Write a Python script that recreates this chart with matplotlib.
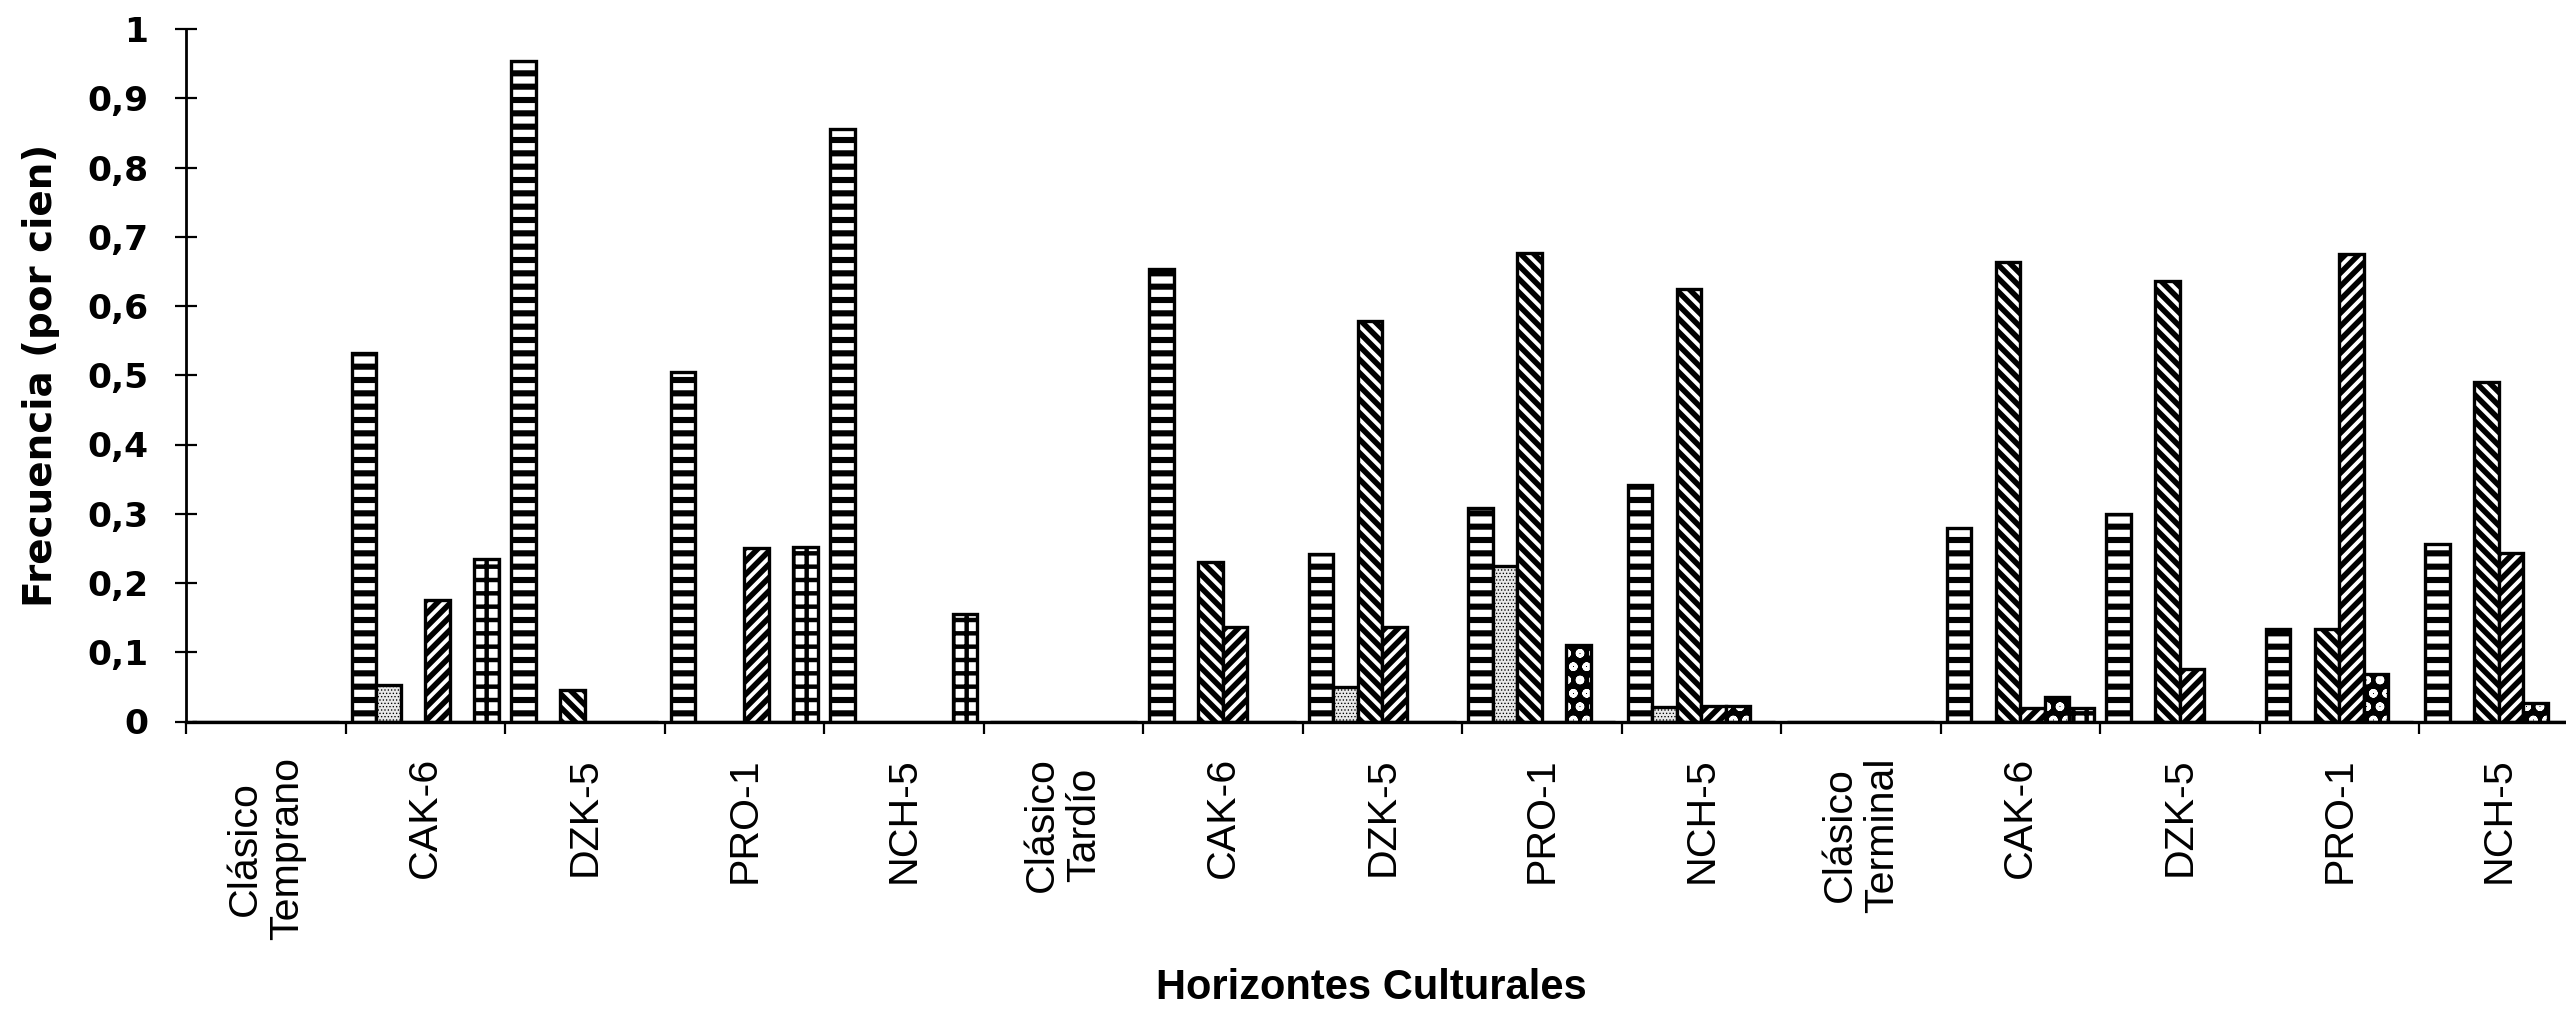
import numpy as np
import matplotlib.pyplot as plt

# Horizontes culturales (cada periodo es un encabezado sin barras)
categorias = ['Clásico\nTemprano', 'CAK-6', 'DZK-5', 'PRO-1', 'NCH-5',
              'Clásico\nTardío', 'CAK-6', 'DZK-5', 'PRO-1', 'NCH-5',
              'Clásico\nTerminal', 'CAK-6', 'DZK-5', 'PRO-1', 'NCH-5']

# Frecuencias, una lista por trama de relleno
horizontal = [0, 0.532, 0.954, 0.505, 0.855, 0, 0.653, 0.242, 0.309, 0.342, 0, 0.280, 0.299, 0.134, 0.257]
punteado   = [0, 0.052, 0, 0, 0, 0, 0, 0.050, 0.224, 0.021, 0, 0, 0, 0, 0]
diag_izq   = [0, 0, 0.046, 0, 0, 0, 0.231, 0.578, 0.676, 0.625, 0, 0.663, 0.636, 0.134, 0.490]
diag_der   = [0, 0.175, 0, 0.250, 0, 0, 0.137, 0.137, 0, 0.022, 0, 0.019, 0.076, 0.675, 0.243]
circulos   = [0, 0, 0, 0, 0, 0, 0, 0, 0.111, 0.022, 0, 0.036, 0, 0.068, 0.026]
cuadricula = [0, 0.234, 0, 0.252, 0.155, 0, 0, 0, 0, 0, 0, 0.019, 0, 0, 0]

yticks = np.arange(0, 1.01, 0.1)
ytick_labels = ['0', '0,1', '0,2', '0,3', '0,4', '0,5', '0,6', '0,7', '0,8', '0,9', '1']

DPI = 80
plt.rcParams['hatch.linewidth'] = 5.0

fig = plt.figure(figsize=(2566 / DPI, 1013 / DPI), dpi=DPI)
ax = fig.add_axes([186 / 2566, 1 - 721.5 / 1013, 1 - 186 / 2566, (721.5 - 29) / 1013])

x = np.arange(len(categorias))
ancho = 1 / 6.5
inicio = 0.038
borde = 3


def grosor_trama(barras, lw):
    for b in barras:
        if hasattr(b, 'set_hatch_linewidth'):
            b.set_hatch_linewidth(lw)


b = ax.bar(x + inicio, horizontal, ancho, align='edge', color='white', edgecolor='black',
           hatch='-', linewidth=borde)
grosor_trama(b, 5.5)
b = ax.bar(x + inicio + ancho, punteado, ancho, align='edge', color='#e8e8e8', edgecolor='black',
           hatch='....', linewidth=borde)
grosor_trama(b, 0.7)
b = ax.bar(x + inicio + 2 * ancho, diag_izq, ancho, align='edge', color='white', edgecolor='black',
           hatch='\\\\', linewidth=borde)
grosor_trama(b, 5.0)
b = ax.bar(x + inicio + 3 * ancho, diag_der, ancho, align='edge', color='white', edgecolor='black',
           hatch='//', linewidth=borde)
grosor_trama(b, 5.0)
b = ax.bar(x + inicio + 4 * ancho, circulos, ancho, align='edge', color='black', edgecolor='white',
           hatch='o', linewidth=0)
grosor_trama(b, 3.0)
ax.bar(x + inicio + 4 * ancho, circulos, ancho, align='edge', fill=False, edgecolor='black',
       linewidth=borde)
b = ax.bar(x + inicio + 5 * ancho, cuadricula, ancho, align='edge', color='white', edgecolor='black',
           hatch='+', linewidth=borde)
grosor_trama(b, 4.0)

ax.set_xlim(0, 2380 / 159.5)
ax.set_ylim(0, 1)

for lado in ['top', 'right']:
    ax.spines[lado].set_visible(False)
ax.spines['bottom'].set_linewidth(3)
ax.spines['left'].set_linewidth(2.5)

ax.set_yticks(yticks)
ax.set_yticklabels(ytick_labels, fontfamily='DejaVu Sans', fontweight='bold', fontsize=31)
ax.tick_params(axis='y', direction='inout', length=20, width=2, pad=24)

ax.set_xticks(x)
ax.set_xticklabels([])
ax.tick_params(axis='x', which='major', direction='out', length=11, width=2)
ax.set_xticks(x + 0.5, minor=True)
ax.set_xticklabels(categorias, minor=True, rotation=90, va='top', ha='center',
                   multialignment='center', fontfamily='Liberation Sans', fontsize=37,
                   linespacing=1.15)
ax.tick_params(axis='x', which='minor', length=0, pad=32)

fig.text(41 / 2566, 1 - 375 / 1013, 'Frecuencia (por cien)', rotation=90, ha='center', va='center',
         fontfamily='DejaVu Sans', fontweight='bold', fontsize=35)
fig.text(1371 / 2566, 1 - 988 / 1013, 'Horizontes Culturales', ha='center', va='center',
         fontfamily='Liberation Sans', fontweight='bold', fontsize=37.5)

fig.savefig('out.png', dpi=DPI)
